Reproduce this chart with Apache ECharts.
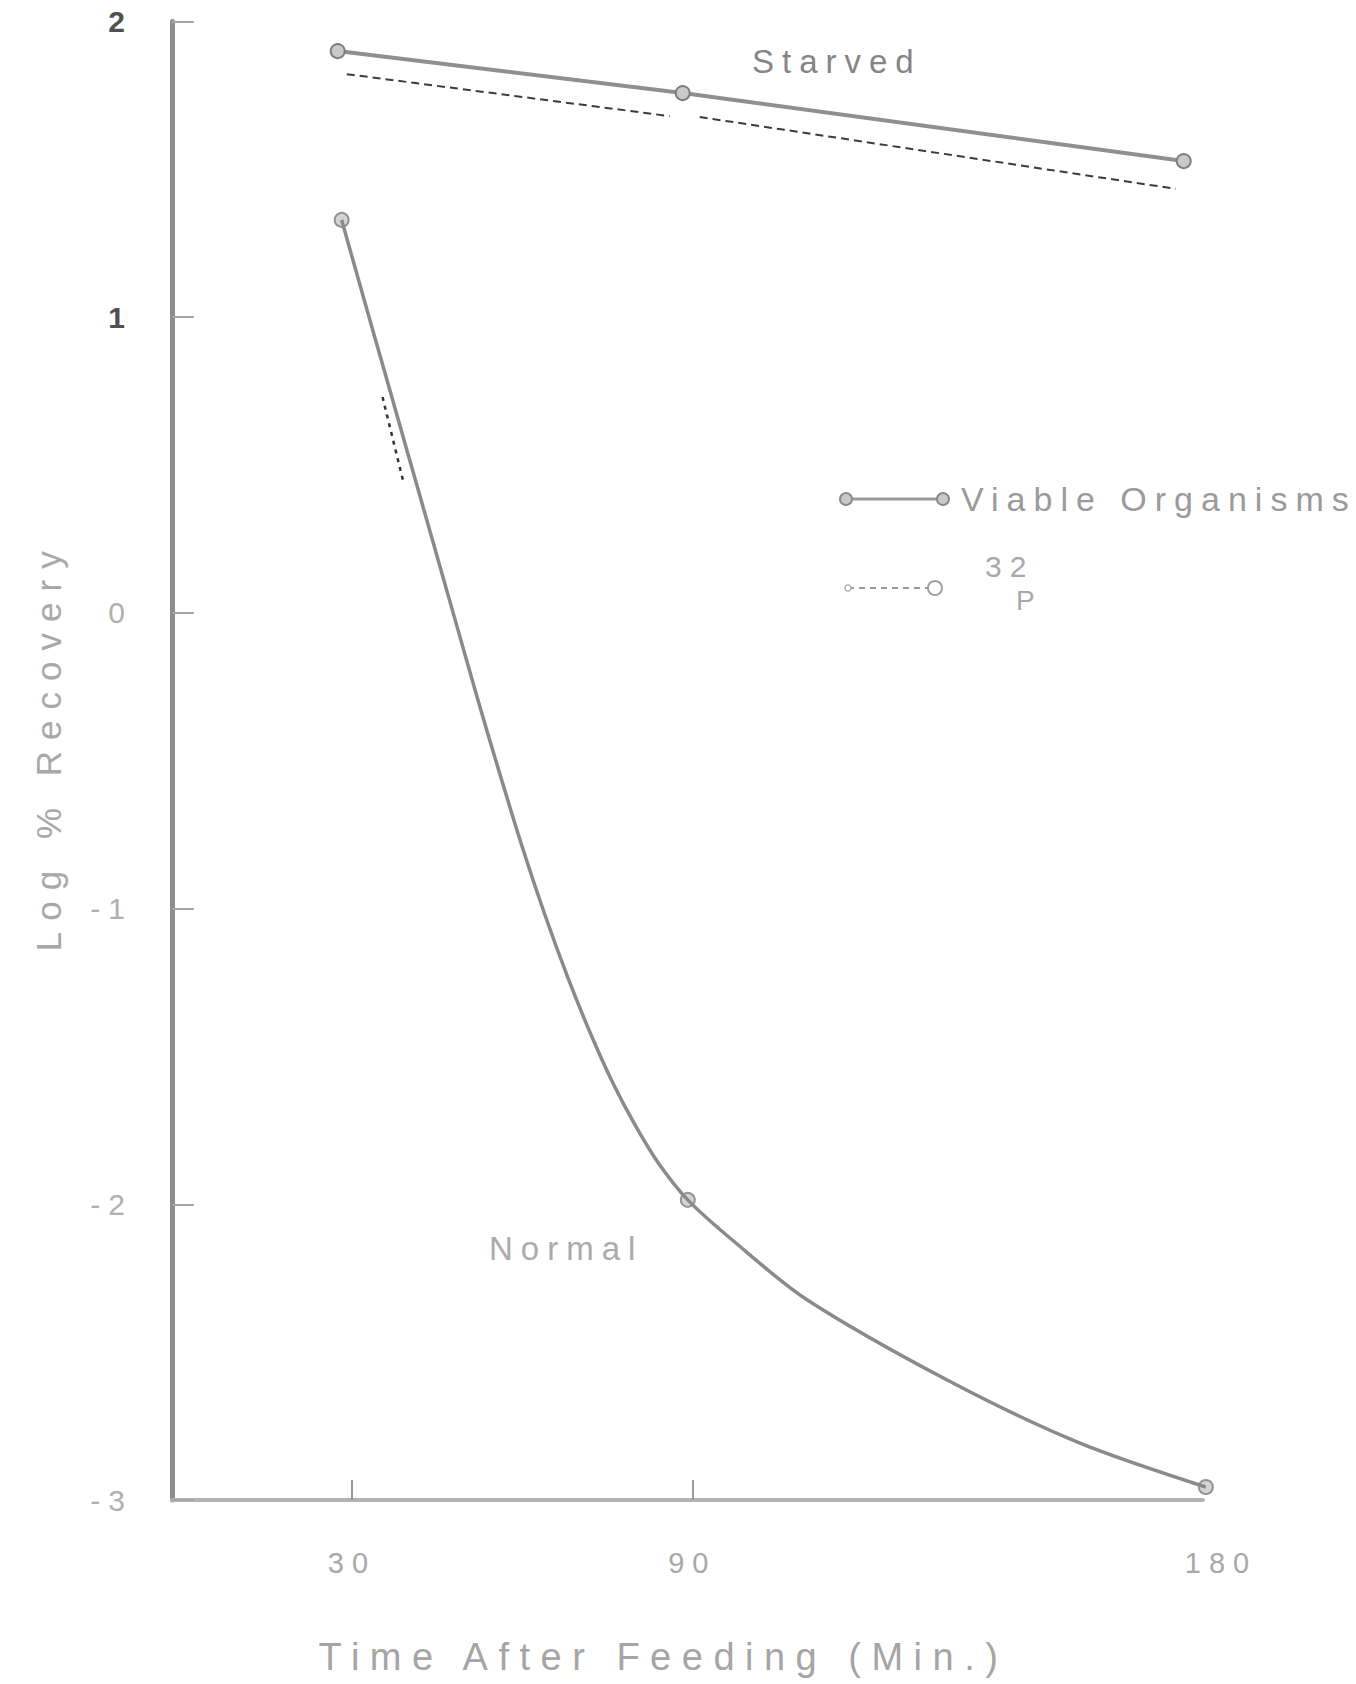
<!DOCTYPE html>
<html>
<head>
<meta charset="utf-8">
<script src="https://cdn.jsdelivr.net/npm/echarts@6/dist/echarts.min.js"></script>
<style>
  html, body { margin: 0; padding: 0; background: #ffffff; }
  #chart { width: 1356px; height: 1684px; }
  #chart text { letter-spacing: 8px; }
  #chart text[style*="38px"] { letter-spacing: 10.5px; }
  #chart text[style*="35px"] { letter-spacing: 11px; }
</style>
</head>
<body>
<div id="chart"></div>
<script>
// ---- data ----
const xTickLabels = [30, 90, 180];
const xTickMarks = [30, 90];
const yTickLabels = [2, 1, 0, -1, -2, -3];

// Starved, viable organisms (solid line with circles)
const starvedTime = [27.5, 88.3, 176.6];
const starvedViable = [1.900, 1.758, 1.528];

// Starved, 32P (dashed; broken near 90 min)
const starvedP32Time = [29.1, 86.0, 88.6, 91.3, 175.2];
const starvedP32 = [1.822, 1.680, null, 1.677, 1.434];

// Normal, viable organisms (curve)
const normalCurveTime = [28.2, 32, 36, 40, 44, 48, 52, 56, 60, 64, 68, 72, 76, 80, 84, 89.2, 97, 110, 135, 158, 180.5];
const normalCurve = [1.329, 1.07, 0.80, 0.53, 0.26, -0.01, -0.28, -0.54, -0.79, -1.02, -1.23, -1.42, -1.59, -1.735, -1.86, -1.985, -2.12, -2.32, -2.595, -2.805, -2.956];
const normalMarkTime = [28.2, 89.2, 180.5];
const normalMark = [1.329, -1.985, -2.956];

// Normal, 32P (short dotted segment)
const normalP32Time = [35.4, 39.0];
const normalP32 = [0.730, 0.449];

const pair = (xs, ys) => xs.map((x, i) => [x, ys[i] === null ? '-' : ys[i]]);

const FONT = "'Liberation Sans', Arial, sans-serif";
const chart = echarts.init(document.getElementById('chart'), null, { renderer: 'svg' });

const markerStyle = { color: '#c9c9c9', borderColor: '#7d7d7d', borderWidth: 2 };

chart.setOption({
  backgroundColor: '#ffffff',
  animation: false,
  grid: { left: 172, right: 153, top: 21.5, bottom: 184, containLabel: false },
  xAxis: {
    type: 'value', min: -1.7, max: 180,
    splitLine: { show: false },
    axisLine: { show: true, onZero: false, lineStyle: { color: '#b3b3b3', width: 4 } },
    axisTick: { show: true, inside: true, length: 20, customValues: xTickMarks, lineStyle: { color: '#9a9a9a', width: 2 } },
    axisLabel: {
      customValues: xTickLabels, margin: 48, fontSize: 29, fontFamily: FONT, color: '#a8a8a8',
      formatter: v => (v === 180 ? '{r|180}' : String(v)),
      rich: { r: { padding: [0, 0, 0, 36], fontSize: 29, fontFamily: FONT, color: '#a8a8a8' } }
    },
    name: 'Time After Feeding (Min.)', nameLocation: 'middle', nameGap: 138,
    nameTextStyle: { fontSize: 38, fontFamily: FONT, color: '#a5a5a5', padding: [0, 48, 0, 0] }
  },
  yAxis: {
    type: 'value', min: -3, max: 2, interval: 1,
    splitLine: { show: false },
    axisLine: { show: true, onZero: false, lineStyle: { color: '#8e8e8e', width: 5 } },
    axisTick: { show: true, inside: true, length: 22, lineStyle: { color: '#a5a5a5', width: 2 } },
    axisLabel: {
      margin: 39, fontSize: 30, fontFamily: FONT,
      formatter: v => (v >= 1 ? '{d|' + v + '}' : '{l|' + v + '}'),
      rich: {
        d: { fontSize: 30, fontFamily: FONT, color: '#505050', fontWeight: 'bold' },
        l: { fontSize: 30, fontFamily: FONT, color: '#b0b0b0' }
      }
    },
    name: 'Log % Recovery', nameLocation: 'middle', nameRotate: 90, nameGap: 106,
    nameTextStyle: { fontSize: 35, fontFamily: FONT, color: '#a8a8a8', padding: [0, 0, 0, 30] }
  },
  series: [
    {
      name: 'Starved viable', type: 'line', clip: false,
      data: pair(starvedTime, starvedViable),
      symbol: 'circle', symbolSize: 14, showSymbol: true,
      lineStyle: { color: '#8f8f8f', width: 4 },
      itemStyle: markerStyle
    },
    {
      name: 'Starved 32P', type: 'line', clip: false, connectNulls: false,
      data: pair(starvedP32Time, starvedP32),
      symbol: 'none',
      lineStyle: { color: '#3c3c3c', width: 2, type: [8, 5] }
    },
    {
      name: 'Normal viable curve', type: 'line', clip: false, smooth: 0.3,
      data: pair(normalCurveTime, normalCurve),
      symbol: 'none',
      lineStyle: { color: '#8a8a8a', width: 3.5 }
    },
    {
      name: 'Normal viable points', type: 'scatter', clip: false,
      data: pair(normalMarkTime, normalMark),
      symbol: 'circle', symbolSize: 14,
      itemStyle: markerStyle
    },
    {
      name: 'Normal 32P', type: 'line', clip: false,
      data: pair(normalP32Time, normalP32),
      symbol: 'none',
      lineStyle: { color: '#333333', width: 2.5, type: [4, 5] }
    }
  ],
  graphic: [
    { type: 'text', x: 752, y: 61, style: { text: 'Starved', fontSize: 33, fontFamily: FONT, fill: '#858585', align: 'left', verticalAlign: 'middle' } },
    { type: 'text', x: 489, y: 1248, style: { text: 'Normal', fontSize: 33, fontFamily: FONT, fill: '#ababab', align: 'left', verticalAlign: 'middle' } },
    // legend: viable organisms
    { type: 'line', shape: { x1: 846, y1: 499, x2: 943, y2: 499 }, style: { stroke: '#9a9a9a', lineWidth: 3 } },
    { type: 'circle', shape: { cx: 846, cy: 499, r: 6 }, style: { fill: '#c9c9c9', stroke: '#8a8a8a', lineWidth: 2 } },
    { type: 'circle', shape: { cx: 943, cy: 499, r: 6 }, style: { fill: '#c9c9c9', stroke: '#8a8a8a', lineWidth: 2 } },
    { type: 'text', x: 961, y: 499, style: { text: 'Viable Organisms', fontSize: 34, fontFamily: FONT, fill: '#9a9a9a', align: 'left', verticalAlign: 'middle' } },
    // legend: 32P
    { type: 'line', shape: { x1: 848, y1: 588, x2: 929, y2: 588 }, style: { stroke: '#9a9a9a', lineWidth: 2, lineDash: [6, 5] } },
    { type: 'circle', shape: { cx: 848, cy: 588, r: 3 }, style: { fill: '#ffffff', stroke: '#b0b0b0', lineWidth: 1.5 } },
    { type: 'circle', shape: { cx: 935, cy: 588, r: 7 }, style: { fill: '#ffffff', stroke: '#a0a0a0', lineWidth: 2 } },
    { type: 'text', x: 985, y: 566, style: { text: '32', fontSize: 30, lineHeight: 30, fontFamily: FONT, fill: '#a8a8a8', align: 'left', verticalAlign: 'middle' } },
    { type: 'text', x: 1016, y: 600, style: { text: 'P', fontSize: 28, lineHeight: 28, fontFamily: FONT, fill: '#a8a8a8', align: 'left', verticalAlign: 'middle' } }
  ]
});
</script>
</body>
</html>
